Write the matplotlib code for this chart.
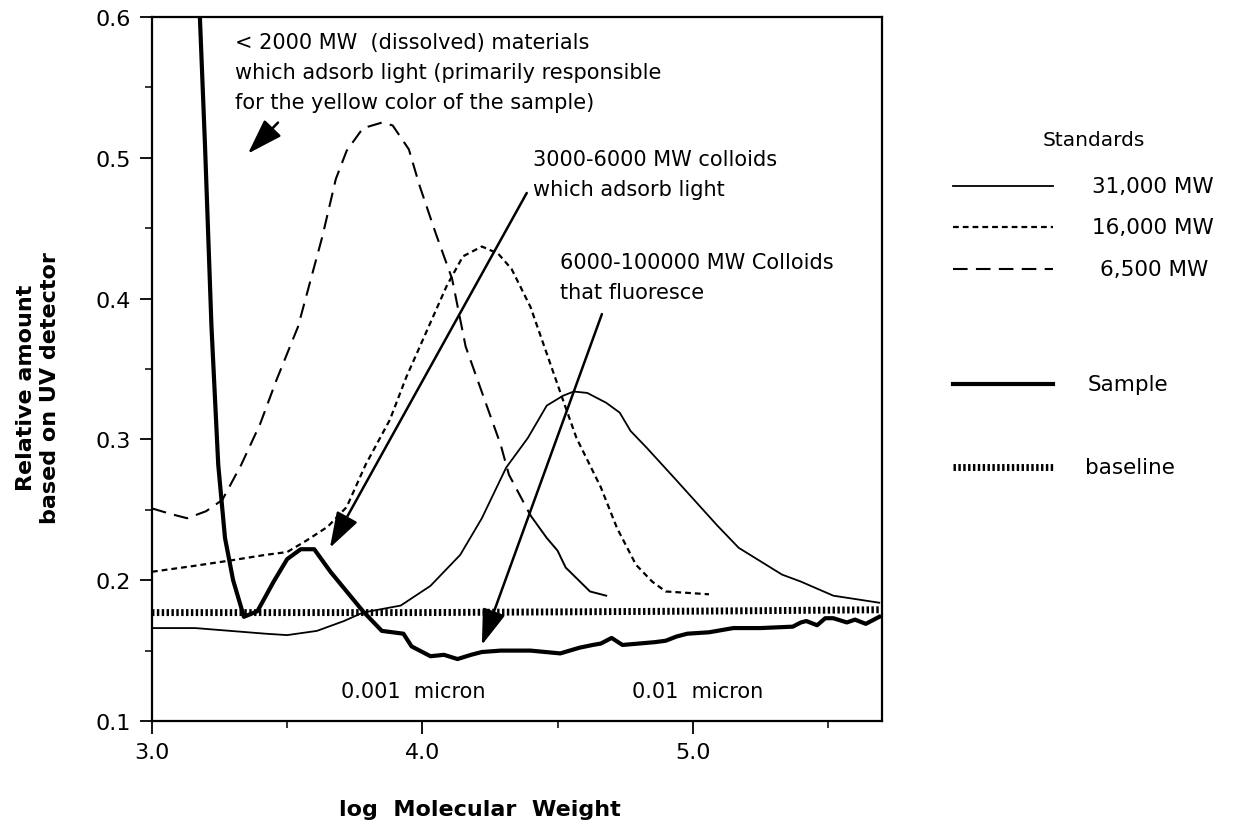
import matplotlib
matplotlib.use("Agg")
import matplotlib.pyplot as plt
from matplotlib.lines import Line2D
from matplotlib.ticker import MultipleLocator

# values
x_31000 = [3.0, 3.16, 3.29, 3.42, 3.5, 3.61, 3.71, 3.78, 3.92, 4.03, 4.14, 4.22, 4.31,
           4.39, 4.46, 4.52, 4.56, 4.61, 4.68, 4.73, 4.77, 4.83, 4.93, 5.09, 5.17, 5.33,
           5.40, 5.52, 5.69]
y_31000 = [0.166, 0.166, 0.164, 0.162, 0.161, 0.164, 0.171, 0.177, 0.182, 0.196, 0.218,
           0.244, 0.280, 0.301, 0.324, 0.331, 0.334, 0.333, 0.326, 0.319, 0.306, 0.294,
           0.273, 0.239, 0.223, 0.204, 0.199, 0.189, 0.184]

x_16000 = [3.0, 3.15, 3.29, 3.42, 3.5, 3.57, 3.65, 3.72, 3.79, 3.88, 3.94, 4.0, 4.09,
           4.15, 4.22, 4.28, 4.33, 4.40, 4.46, 4.52, 4.57, 4.66, 4.72, 4.79, 4.85, 4.90,
           5.06]
y_16000 = [0.206, 0.210, 0.214, 0.218, 0.220, 0.228, 0.238, 0.252, 0.282, 0.314, 0.344,
           0.370, 0.409, 0.430, 0.437, 0.432, 0.421, 0.394, 0.361, 0.328, 0.301, 0.266,
           0.237, 0.211, 0.199, 0.192, 0.190]

x_6500 = [3.0, 3.07, 3.13, 3.20, 3.26, 3.33, 3.40, 3.46, 3.54, 3.63, 3.68, 3.72, 3.78,
          3.85, 3.89, 3.95, 3.99, 4.05, 4.11, 4.16, 4.21, 4.29, 4.32, 4.40, 4.46, 4.50,
          4.53, 4.62, 4.68]
y_6500 = [0.251, 0.247, 0.244, 0.249, 0.257, 0.282, 0.311, 0.342, 0.380, 0.444, 0.485,
          0.505, 0.521, 0.525, 0.523, 0.506, 0.480, 0.446, 0.414, 0.366, 0.339, 0.296,
          0.275, 0.246, 0.230, 0.221, 0.209, 0.192, 0.189]

x_sample = [3.175, 3.196, 3.22, 3.245, 3.27, 3.30, 3.34, 3.39, 3.45, 3.50, 3.55, 3.60,
            3.66, 3.72, 3.78, 3.85, 3.93, 3.96, 4.03, 4.08, 4.13, 4.18, 4.22, 4.29, 4.40,
            4.51, 4.58, 4.63, 4.66, 4.70, 4.74, 4.80, 4.86, 4.90, 4.94, 4.98, 5.06, 5.15,
            5.25, 5.37, 5.40, 5.42, 5.46, 5.49, 5.52, 5.57, 5.60, 5.64, 5.69]
y_sample = [0.61, 0.509, 0.38, 0.282, 0.23, 0.20, 0.174, 0.178, 0.199, 0.215, 0.222,
            0.222, 0.206, 0.192, 0.178, 0.164, 0.162, 0.153, 0.146, 0.147, 0.144, 0.147,
            0.149, 0.150, 0.150, 0.148, 0.152, 0.154, 0.155, 0.159, 0.154, 0.155, 0.156,
            0.157, 0.160, 0.162, 0.163, 0.166, 0.166, 0.167, 0.170, 0.171, 0.168, 0.173,
            0.173, 0.170, 0.172, 0.169, 0.174]

x_base = [3.0, 4.0, 5.0, 5.69]
y_base = [0.177, 0.177, 0.178, 0.179]

W, H = 1233, 828
fig = plt.figure(figsize=(W / 100, H / 100), dpi=100)
ax = fig.add_axes([152 / W, 1 - 722 / H, (882 - 152) / W, (722 - 18) / H])

DASH_SHORT = (0, (2.6, 1.8))
DASH_LONG = (0, (7, 4))
DOTS = (0, (0.35, 0.35))

ax.plot(x_base, y_base, color="black", lw=5, ls=DOTS)
ax.plot(x_31000, y_31000, color="black", lw=1.3)
ax.plot(x_16000, y_16000, color="black", lw=1.6, ls=DASH_SHORT)
ax.plot(x_6500[:24], y_6500[:24], color="black", lw=1.5, ls=DASH_LONG)
ax.plot(x_6500[23:], y_6500[23:], color="black", lw=1.4)
ax.plot(x_sample, y_sample, color="black", lw=3.0)

ax.set_xlim(3.0, 5.70)
ax.set_ylim(0.1, 0.6)
ax.xaxis.set_major_locator(MultipleLocator(1.0))
ax.xaxis.set_minor_locator(MultipleLocator(0.5))
ax.yaxis.set_major_locator(MultipleLocator(0.1))
ax.yaxis.set_minor_locator(MultipleLocator(0.05))
ax.xaxis.set_major_formatter(matplotlib.ticker.FormatStrFormatter("%.1f"))
ax.yaxis.set_major_formatter(matplotlib.ticker.FormatStrFormatter("%.1f"))
ax.tick_params(which="major", direction="out", length=9, width=1.3, labelsize=16, pad=6)
ax.tick_params(which="minor", direction="out", length=5, width=1.1)
for s in ax.spines.values():
    s.set_linewidth(1.6)

txt = dict(fontsize=15, color="black", va="top", ha="left", linespacing=1.62)
ax.text(3.307, 0.589, "< 2000 MW  (dissolved) materials\n"
        "which adsorb light (primarily responsible\n"
        "for the yellow color of the sample)", **txt)
ax.text(4.41, 0.506, "3000-6000 MW colloids\nwhich adsorb light", **txt)
ax.text(4.51, 0.433, "6000-100000 MW Colloids\nthat fluoresce", **txt)
ax.text(3.70, 0.121, "0.001  micron", fontsize=15, va="center", ha="left")
ax.text(4.775, 0.121, "0.01  micron", fontsize=15, va="center", ha="left")

arrow = dict(arrowstyle="-|>,head_length=1.0,head_width=0.33", color="black", lw=1.8,
             mutation_scale=22, shrinkA=0, shrinkB=0)
ax.annotate("", xy=(3.355, 0.503), xytext=(3.466, 0.525), arrowprops=arrow)
ax.annotate("", xy=(3.658, 0.223), xytext=(4.386, 0.475), arrowprops=arrow)
ax.annotate("", xy=(4.22, 0.154), xytext=(4.664, 0.389), arrowprops=arrow)

# axis titles
fig.text(38 / W, 1 - 388 / H, "Relative amount\nbased on UV detector", rotation=90,
         fontsize=16, fontweight="bold", ha="center", va="center", linespacing=1.3)
fig.text(480 / W, 1 - 810 / H, "log  Molecular  Weight", fontsize=16,
         fontweight="bold", ha="center", va="center")

# hand-drawn legend on the right
fig.text(1043 / W, 1 - 140 / H, "Standards", fontsize=14.5, va="center", ha="left")
legend_rows = [
    (187, "31,000 MW", dict(lw=1.3, ls="-"), 1092),
    (228, "16,000 MW", dict(lw=1.6, ls=DASH_SHORT), 1092),
    (270, "6,500 MW", dict(lw=1.5, ls=DASH_LONG), 1100),
    (385, "Sample", dict(lw=3.0, ls="-"), 1088),
    (468, "baseline", dict(lw=5, ls=DOTS), 1085),
]
for ypx, label, style, xlab in legend_rows:
    fig.add_artist(Line2D([953 / W, 1053 / W], [1 - ypx / H, 1 - ypx / H],
                          transform=fig.transFigure, color="black", **style))
    fig.text(xlab / W, 1 - ypx / H, label, fontsize=15.5, va="center", ha="left")

fig.savefig("out.png", dpi=100)
